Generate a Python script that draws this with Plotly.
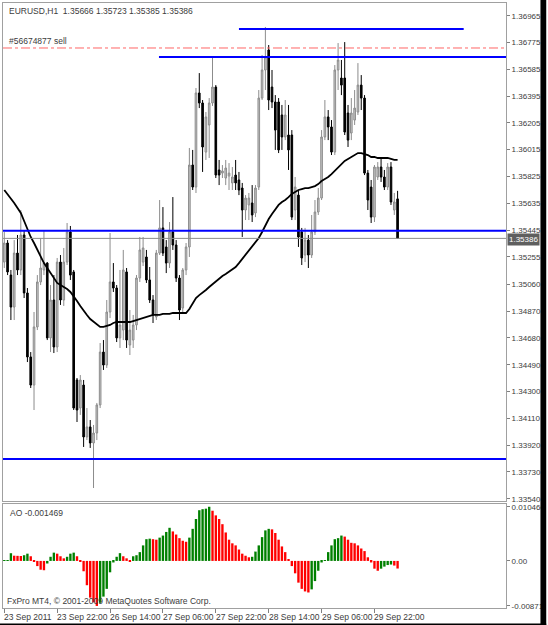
import plotly.graph_objects as go

# ---------------- data ----------------
bars = list(range(120))
open_ = [1.35218,1.35353,1.35126,1.34899,1.35282,1.35162,1.35410,1.34999,1.34545,1.34346,
         1.34758,1.35077,1.35162,1.35211,1.34680,1.34949,1.34616,1.35218,1.34949,1.35218,
         1.35431,1.35148,1.34382,1.34183,1.34346,1.33978,1.34049,1.33935,1.34006,1.34205,
         1.34580,1.34488,1.34864,1.35077,1.35034,1.34680,1.34736,1.35148,1.34630,1.34665,
         1.34772,1.35105,1.35218,1.35254,1.35091,1.34949,1.34829,1.35282,1.35460,1.35325,
         1.35211,1.35431,1.35339,1.35105,1.34892,1.35162,1.35325,1.35906,1.35750,1.36417,
         1.36346,1.35998,1.36190,1.36346,1.36459,1.35871,1.35849,1.35814,1.35828,1.35779,
         1.35835,1.35800,1.35743,1.35587,1.35623,1.35637,1.35566,1.35750,1.36381,1.36580,
         1.36722,1.36459,1.36353,1.36353,1.36261,1.36105,1.36119,1.36119,1.35587,1.35693,
         1.35431,1.35268,1.35374,1.35268,1.35431,1.35573,1.35672,1.36105,1.36247,1.36176,
         1.35998,1.36580,1.36523,1.36523,1.36275,1.36133,1.36225,1.36282,1.36473,1.36381,
         1.35849,1.35750,1.35537,1.35821,1.35892,1.35821,1.35750,1.35892,1.35587,1.35666]
high_ = [1.35431,1.35374,1.35162,1.35374,1.35410,1.35587,1.35445,1.35034,1.34580,1.34864,
         1.35126,1.35389,1.35445,1.35218,1.35055,1.35126,1.35247,1.35268,1.35318,1.35495,
         1.35474,1.35162,1.34396,1.34417,1.34382,1.34183,1.34098,1.34063,1.34219,1.34644,
         1.34665,1.34949,1.35424,1.35211,1.35055,1.35162,1.35304,1.35176,1.34878,1.34843,
         1.35126,1.35396,1.35396,1.35304,1.35183,1.34984,1.35304,1.35658,1.35608,1.35374,
         1.35502,1.35679,1.35374,1.35126,1.35176,1.35353,1.36027,1.36013,1.36452,1.36558,
         1.36367,1.36282,1.36381,1.36672,1.36473,1.35942,1.35906,1.35942,1.35920,1.35892,
         1.35942,1.35857,1.35779,1.35693,1.35708,1.35764,1.35764,1.36438,1.36686,1.36885,
         1.36757,1.36580,1.36402,1.36381,1.36332,1.36367,1.36332,1.36154,1.35821,1.35729,
         1.35460,1.35460,1.35410,1.35552,1.35658,1.35743,1.36154,1.36367,1.36296,1.36225,
         1.36615,1.36771,1.36651,1.36778,1.36332,1.36381,1.36438,1.36629,1.36544,1.36402,
         1.35871,1.35800,1.35906,1.35927,1.35963,1.35871,1.35920,1.35927,1.35708,1.35723]
low_ = [1.35176,1.35126,1.34807,1.34807,1.35126,1.35126,1.34963,1.34509,1.34325,1.34169,
        1.34736,1.35055,1.35126,1.34665,1.34580,1.34573,1.34580,1.34914,1.34907,1.35197,
        1.35091,1.34169,1.34084,1.34134,1.33907,1.33956,1.33900,1.33616,1.33956,1.34183,
        1.34453,1.34467,1.34821,1.35006,1.34651,1.34609,1.34665,1.34609,1.34559,1.34609,
        1.34736,1.35077,1.35190,1.35070,1.34928,1.34786,1.34807,1.35268,1.35261,1.35140,
        1.35176,1.35304,1.35077,1.34807,1.34864,1.35126,1.35254,1.35729,1.35708,1.36310,
        1.35857,1.35942,1.35956,1.36325,1.35814,1.35764,1.35814,1.35764,1.35729,1.35729,
        1.35729,1.35693,1.35396,1.35516,1.35516,1.35502,1.35537,1.35729,1.36367,1.36438,
        1.36296,1.36310,1.36013,1.35991,1.36013,1.36083,1.35871,1.35516,1.35516,1.35325,
        1.35197,1.35218,1.35176,1.35247,1.35410,1.35552,1.35658,1.36083,1.36083,1.35977,
        1.35977,1.36438,1.36402,1.36119,1.36034,1.36083,1.36190,1.36261,1.36296,1.35835,
        1.35587,1.35495,1.35502,1.35800,1.35786,1.35729,1.35729,1.35623,1.35552,1.35385]
close_ = [1.35353,1.35148,1.34899,1.35282,1.35162,1.35410,1.34999,1.34545,1.34346,1.34758,
          1.35077,1.35176,1.35211,1.34680,1.34949,1.34616,1.35218,1.34949,1.35218,1.35431,
          1.35126,1.34183,1.34169,1.34382,1.33978,1.34049,1.33935,1.34006,1.34205,1.34580,
          1.34488,1.34864,1.35077,1.35034,1.34680,1.34772,1.35162,1.34665,1.34736,1.34772,
          1.35105,1.35304,1.35318,1.35091,1.34949,1.34843,1.35282,1.35460,1.35282,1.35211,
          1.35431,1.35339,1.35105,1.34878,1.35162,1.35325,1.35906,1.35750,1.36417,1.36346,
          1.36034,1.36247,1.36346,1.36459,1.35835,1.35835,1.35864,1.35885,1.35849,1.35821,
          1.35779,1.35729,1.35587,1.35672,1.35672,1.35552,1.35743,1.36381,1.36580,1.36672,
          1.36367,1.36353,1.36154,1.36013,1.36105,1.36261,1.36013,1.35537,1.35750,1.35396,
          1.35247,1.35374,1.35268,1.35431,1.35573,1.35672,1.36105,1.36247,1.36176,1.35998,
          1.36580,1.36651,1.36473,1.36140,1.36083,1.36275,1.36310,1.36473,1.36381,1.35849,
          1.35658,1.35537,1.35892,1.35892,1.35821,1.35750,1.35892,1.35644,1.35644,1.35386]
ma_ = [1.35729,1.35701,1.35672,1.35637,1.35601,1.35566,1.35509,1.35452,1.35396,1.35353,
       1.35304,1.35254,1.35211,1.35176,1.35140,1.35098,1.35070,1.35055,1.35041,1.35027,
       1.35006,1.34977,1.34942,1.34907,1.34871,1.34843,1.34814,1.34793,1.34772,1.34758,
       1.34758,1.34765,1.34772,1.34786,1.34793,1.34793,1.34793,1.34793,1.34793,1.34800,
       1.34807,1.34814,1.34821,1.34829,1.34836,1.34843,1.34843,1.34843,1.34850,1.34850,
       1.34850,1.34857,1.34857,1.34857,1.34857,1.34857,1.34885,1.34928,1.34963,1.34984,
       1.34999,1.35020,1.35041,1.35062,1.35084,1.35098,1.35119,1.35133,1.35148,1.35162,
       1.35183,1.35211,1.35240,1.35268,1.35296,1.35325,1.35353,1.35389,1.35431,1.35481,
       1.35523,1.35559,1.35594,1.35623,1.35644,1.35658,1.35679,1.35701,1.35715,1.35729,
       1.35736,1.35743,1.35743,1.35750,1.35757,1.35771,1.35793,1.35807,1.35821,1.35842,
       1.35864,1.35885,1.35913,1.35935,1.35949,1.35963,1.35977,1.35991,1.35991,1.35984,
       1.35977,1.35963,1.35963,1.35956,1.35956,1.35956,1.35956,1.35949,1.35942,1.35942]
ao_ = [0.00005,0.00014,0.00149,0.00101,0.00098,0.00095,0.0011,0.0014,0.0009,-0.0002,
       -0.001,-0.0017,-0.0018,-0.0005,0.0008,0.0016,0.0014,0.0009,0.0005,0.0008,
       0.0014,0.0016,0.0009,-0.0001,-0.002,-0.0047,-0.0071,-0.008,-0.0087,-0.0081,
       -0.0069,-0.0054,-0.0022,-0.0003,0.0008,0.0015,0.0009,0.0005,-0.0001,0.0009,
       0.0011,0.0017,0.003,0.0042,0.0043,0.0042,0.0041,0.0045,0.0049,0.0056,
       0.0064,0.0057,0.0051,0.0044,0.0039,0.0037,0.0045,0.0062,0.0081,0.0098,
       0.0100,0.0101,0.010466,0.0097,0.0088,0.0081,0.0071,0.0055,0.0041,0.0034,
       0.0030,0.0022,0.0014,0.0010,0.0007,0.0008,0.0018,0.0030,0.0046,0.0059,
       0.0062,0.0061,0.0054,0.0041,0.0028,0.0017,0.0003,-0.0010,-0.0024,-0.0042,
       -0.0054,-0.0059,-0.0061,-0.0055,-0.0039,-0.0019,-0.0003,0.0001,0.0017,0.0030,
       0.0042,0.0044,0.0049,0.0047,0.0041,0.0035,0.0034,0.0030,0.0024,0.0019,
       0.0007,-0.0003,-0.0015,-0.0019,-0.0015,-0.0011,-0.0008,-0.0007,-0.0009,-0.001469]

price_ticks = [1.36965,1.36775,1.36585,1.36395,1.36205,1.36015,1.35825,1.35635,1.35445,
               1.35255,1.35060,1.34870,1.34680,1.34490,1.34300,1.34110,1.33920,1.33730,1.33540]
ao_ticks = [0.010466, 0.0, -0.00871]
ao_tick_text = ["0.010466", "0.00", "-0.00871"]
date_tick_bars = [0, 16, 32, 48, 64, 80, 96, 112]
date_labels = ["23 Sep 2011", "23 Sep 22:00", "26 Sep 14:00", "27 Sep 06:00",
               "27 Sep 22:00", "28 Sep 14:00", "29 Sep 06:00", "29 Sep 22:00"]

# horizontal levels: (price, start bar, end bar or None for full width)
blue_levels = [(1.36870, 71, 139), (1.36672, 46.8, None), (1.35440, None, None), (1.33822, None, None)]
sell_level = 1.36736
bid_price = 1.35386

FONT = "Liberation Sans, Arial, sans-serif"
TXT = "#3c3c3c"
XR = [-0.39, 151.8]
YR = [1.33524, 1.37055]

fig = go.Figure()

fig.add_trace(go.Candlestick(
    x=bars, open=open_, high=high_, low=low_, close=close_,
    increasing=dict(line=dict(color="#8c8c8c", width=1), fillcolor="#c8c8c8"),
    decreasing=dict(line=dict(color="#000000", width=1), fillcolor="#000000"),
    whiskerwidth=0, showlegend=False, hoverinfo="skip", xaxis="x", yaxis="y"))

fig.add_trace(go.Scatter(x=bars, y=ma_, mode="lines", line=dict(color="black", width=1.8),
                         showlegend=False, hoverinfo="skip", xaxis="x", yaxis="y"))

ao_colors = ["#008000"] + ["#008000" if ao_[i] > ao_[i - 1] else "#ff0000" for i in range(1, len(ao_))]
fig.add_trace(go.Bar(x=bars, y=ao_, marker=dict(color=ao_colors, line=dict(width=0)),
                     showlegend=False, hoverinfo="skip", xaxis="x2", yaxis="y2"))

shapes = []
for lvl, x0, x1 in blue_levels:
    shapes.append(dict(type="line", xref="x", yref="y",
                       x0=XR[0] if x0 is None else x0, x1=XR[1] if x1 is None else x1,
                       y0=lvl, y1=lvl, line=dict(color="#0000ff", width=2)))
shapes.append(dict(type="line", xref="x", yref="y", x0=XR[0], x1=XR[1], y0=sell_level, y1=sell_level,
                   line=dict(color="#ff6666", width=1, dash="dashdot")))
shapes.append(dict(type="line", xref="x", yref="y", x0=XR[0], x1=XR[1], y0=bid_price, y1=bid_price,
                   line=dict(color="#8c8c8c", width=1)))
# window border (thin dark right / bottom edges)
shapes.append(dict(type="rect", xref="paper", yref="paper", x0=1.0685, x1=1.08, y0=-0.03, y1=1.01,
                   fillcolor="black", line=dict(width=0), layer="above"))
shapes.append(dict(type="rect", xref="paper", yref="paper", x0=-0.01, x1=1.08, y0=-0.03, y1=-0.0255,
                   fillcolor="black", line=dict(width=0), layer="above"))

annotations = [
    dict(text="EURUSD,H1  1.35666 1.35723 1.35385 1.35386", xref="paper", yref="paper",
         x=0.008, y=1.0, xanchor="left", yanchor="top", yshift=-1, showarrow=False,
         font=dict(family=FONT, size=8.5, color=TXT)),
    dict(text="#56674877 sell", xref="paper", yref="y", x=0.008, y=sell_level,
         xanchor="left", yanchor="bottom", showarrow=False,
         font=dict(family=FONT, size=8.5, color=TXT)),
    dict(text="1.35386", xref="paper", yref="y", x=1.0, y=bid_price, xanchor="left",
         yanchor="top", xshift=1, yshift=5, showarrow=False, bgcolor="#5f5f5f", borderpad=1,
         font=dict(family=FONT, size=8, color="white")),
    dict(text="AO -0.001469", xref="paper", yref="y2 domain", x=0.01, y=1.0,
         xanchor="left", yanchor="top", yshift=-2, showarrow=False,
         font=dict(family=FONT, size=8.5, color=TXT)),
    dict(text="FxPro MT4, \u00a9 2001-2009 MetaQuotes Software Corp.", xref="paper", yref="y2 domain",
         x=0.004, y=0.0, xanchor="left", yanchor="bottom", showarrow=False,
         font=dict(family=FONT, size=8.5, color=TXT)),
]
for b, lab in zip(date_tick_bars, date_labels):
    annotations.append(dict(text=lab, xref="x2", yref="paper", x=b, y=-0.003, xanchor="left",
                            yanchor="top", xshift=-2, showarrow=False,
                            font=dict(family=FONT, size=8.5, color=TXT)))

axis_common = dict(showgrid=False, zeroline=False, showline=True, mirror=True,
                   linecolor="#a0a0a0", linewidth=1)

fig.update_layout(
    width=548, height=625, margin=dict(l=2, r=36, t=3, b=17),
    paper_bgcolor="white", plot_bgcolor="white", bargap=0.28,
    shapes=shapes, annotations=annotations,
    xaxis=dict(range=XR, domain=[0, 1], anchor="y", showticklabels=False, ticks="",
               rangeslider=dict(visible=False), **axis_common),
    xaxis2=dict(range=XR, domain=[0, 1], anchor="y2", matches="x", tickvals=date_tick_bars,
                ticktext=[""] * len(date_tick_bars), ticks="outside", ticklen=4,
                tickcolor="#808080", **axis_common),
    yaxis=dict(range=YR, domain=[0.1769, 1], anchor="x", side="right", tickvals=price_ticks,
               ticktext=[f"{v:.5f}" for v in price_ticks], ticks="outside", ticklen=3,
               tickcolor="#808080", tickfont=dict(family=FONT, size=8, color=TXT), **axis_common),
    yaxis2=dict(range=[-0.0091, 0.0110], domain=[0, 0.1719], anchor="x2", side="right",
                tickvals=ao_ticks, ticktext=ao_tick_text, ticks="outside", ticklen=3,
                tickcolor="#808080", tickfont=dict(family=FONT, size=8, color=TXT), **axis_common),
)

fig.write_html("out.html")
